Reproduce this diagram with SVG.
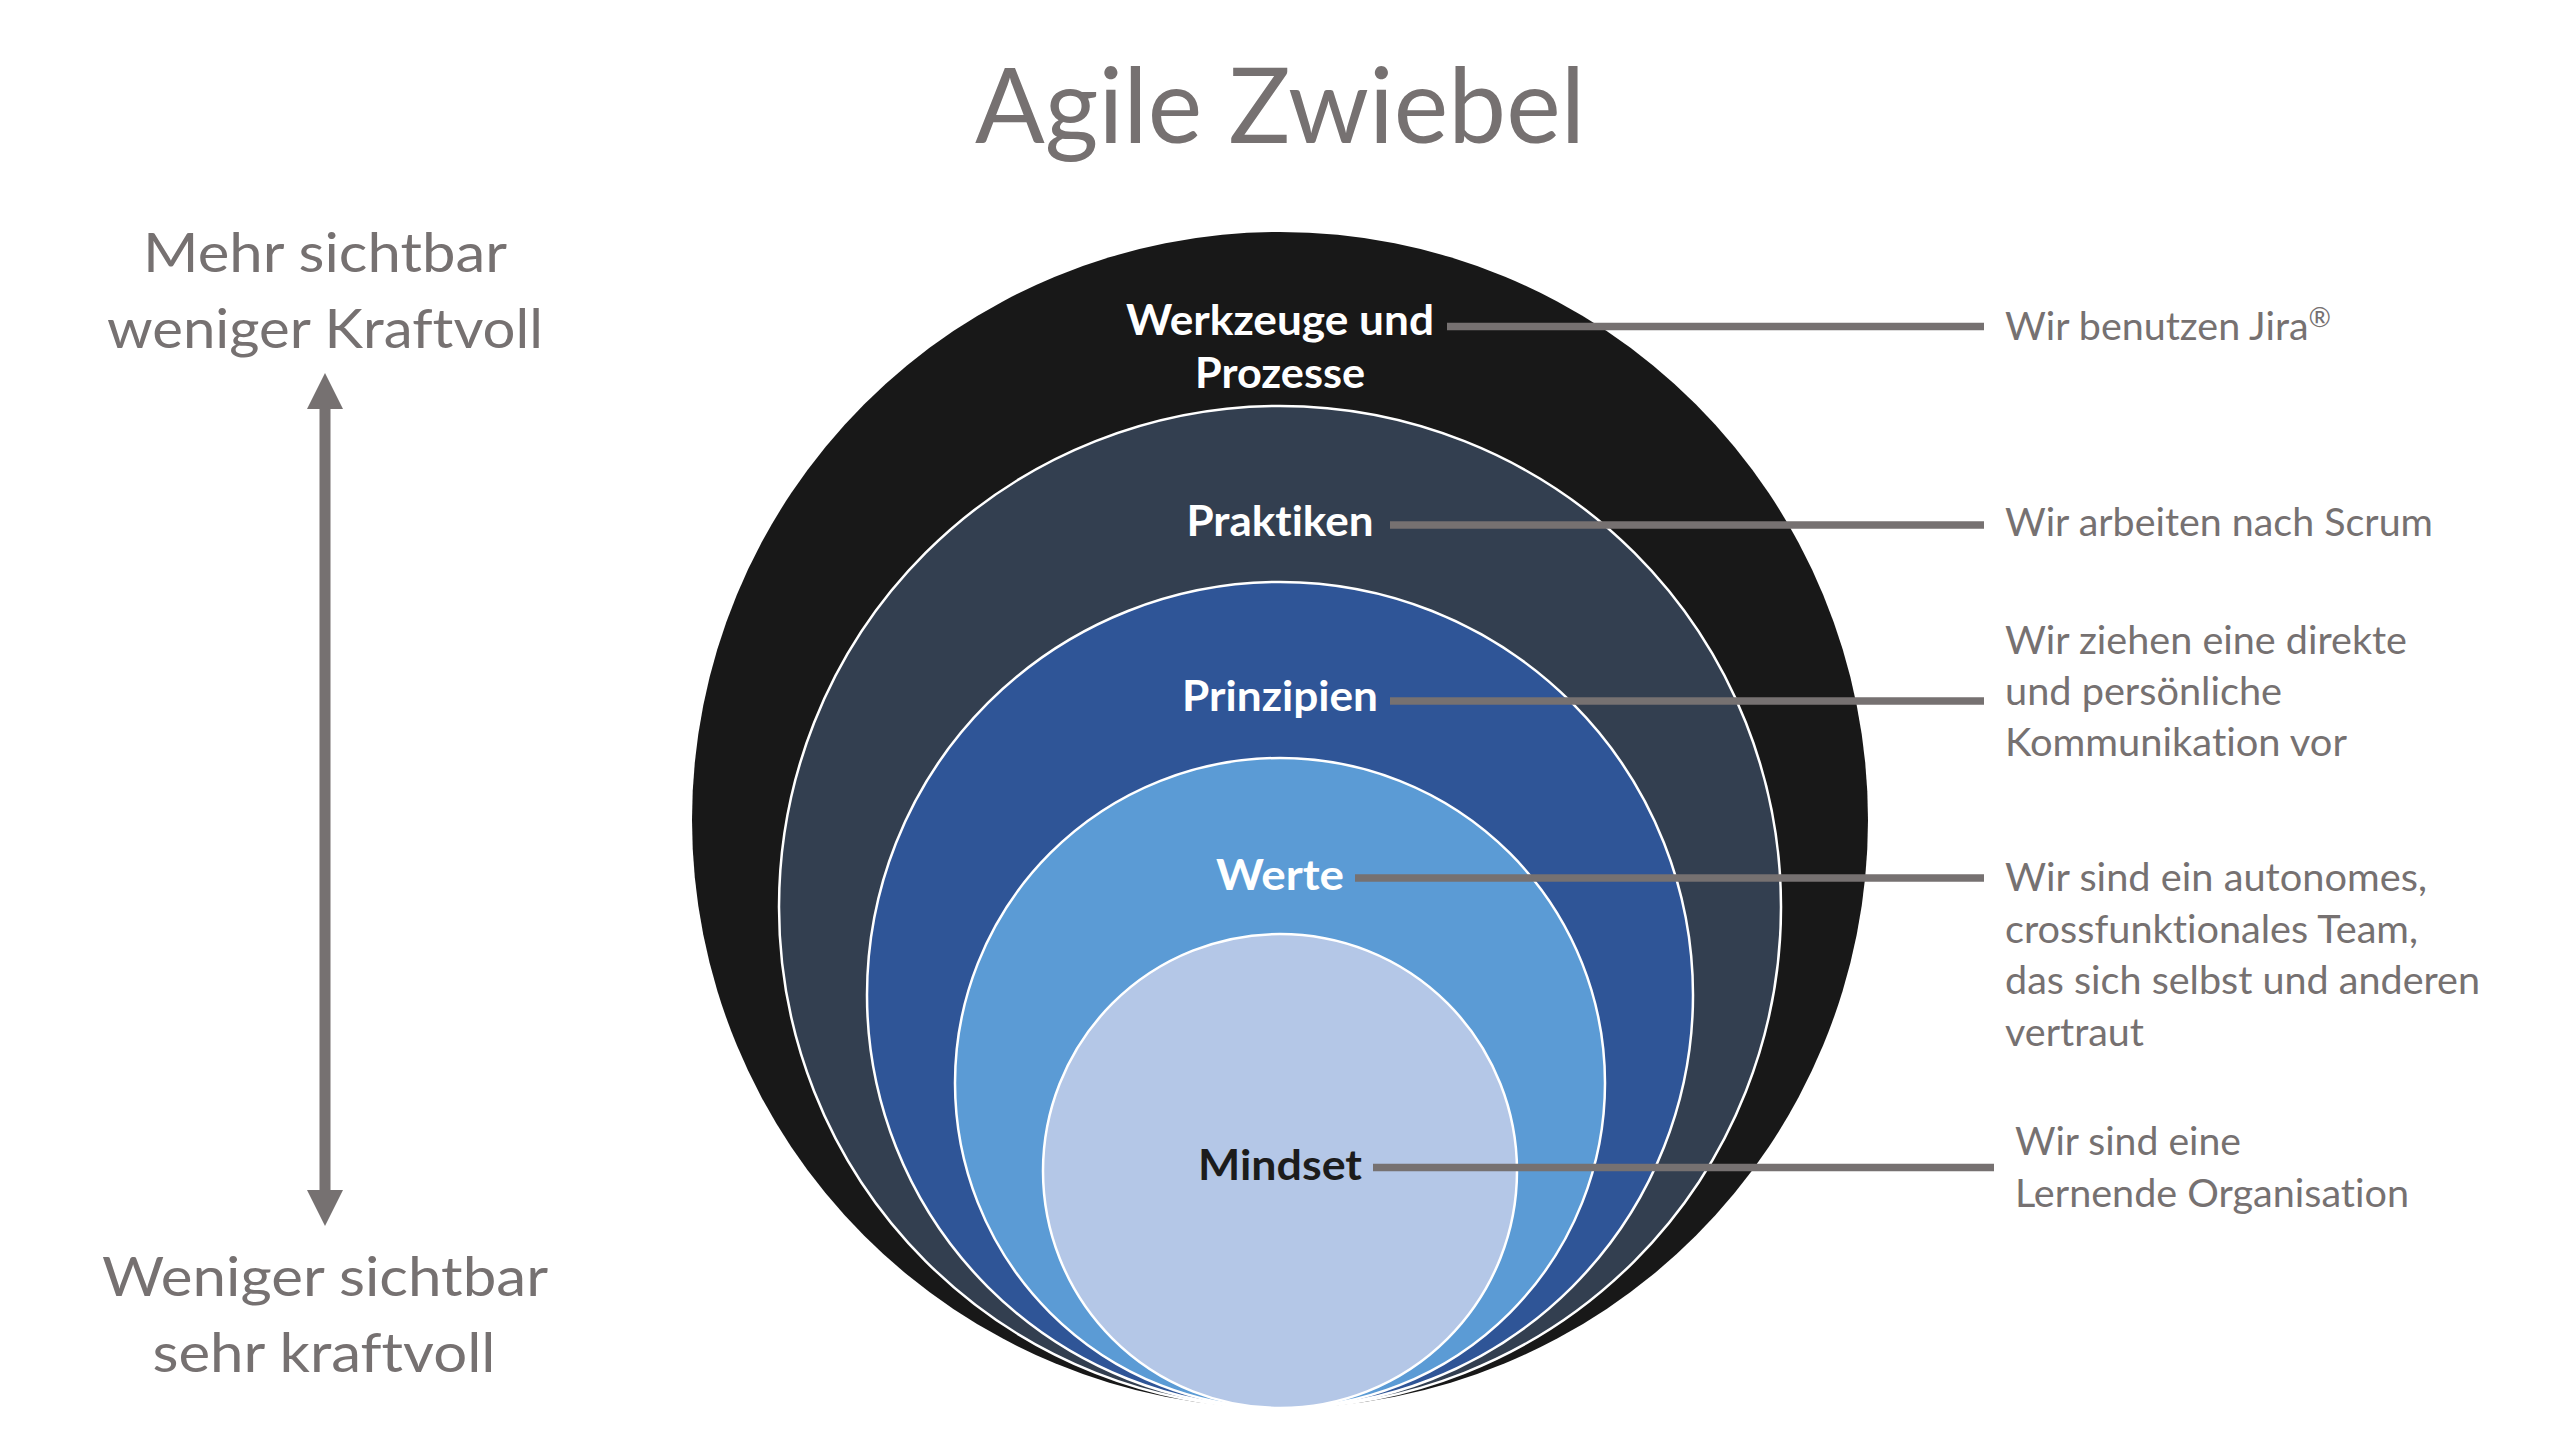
<svg xmlns="http://www.w3.org/2000/svg" width="2560" height="1446" viewBox="0 0 2560 1446">
  <style>
    text { font-variant-ligatures: none; font-feature-settings: "liga" 0, "dlig" 0; }
    .ring { stroke: #FFFFFF; stroke-width: 2.5; }
    .lbl { font-family: Lato, "Liberation Sans", sans-serif; font-weight: 700; font-size: 42px; text-anchor: middle; fill: #FFFFFF; }
    .note { font-family: Lato, "Liberation Sans", sans-serif; font-weight: 400; font-size: 38px; fill: #767171; }
    .side { font-family: Lato, "Liberation Sans", sans-serif; font-weight: 400; font-size: 54px; fill: #767171; text-anchor: middle; }
    .title { font-family: Lato, "Liberation Sans", sans-serif; font-weight: 400; font-size: 105px; fill: #767171; text-anchor: middle; }
    .conn { stroke: #767171; stroke-width: 7.5; fill: none; }
  </style>
  <rect x="0" y="0" width="2560" height="1446" fill="#FFFFFF"/>

  <g id="title">
    <text class="title" x="1280" y="143" textLength="610" lengthAdjust="spacingAndGlyphs">Agile Zwiebel</text>
  </g>

  <g id="visibility-scale">
    <text class="side" x="325" y="272" textLength="364" lengthAdjust="spacingAndGlyphs">Mehr sichtbar</text>
    <text class="side" x="325" y="348" textLength="436" lengthAdjust="spacingAndGlyphs">weniger Kraftvoll</text>
    <rect x="319.5" y="405" width="11" height="789" fill="#767171"/>
    <polygon points="325,373 343,409 307,409" fill="#767171"/>
    <polygon points="325,1226 343,1190 307,1190" fill="#767171"/>
    <text class="side" x="325" y="1296" textLength="446" lengthAdjust="spacingAndGlyphs">Weniger sichtbar</text>
    <text class="side" x="324" y="1372" textLength="343" lengthAdjust="spacingAndGlyphs">sehr kraftvoll</text>
  </g>

  <g id="werkzeuge">
    <circle cx="1280" cy="820" r="588" fill="#181818"/>
    <text class="lbl" x="1280" y="335" textLength="308" lengthAdjust="spacingAndGlyphs">Werkzeuge und</text>
    <text class="lbl" x="1280" y="388" textLength="170" lengthAdjust="spacingAndGlyphs">Prozesse</text>
  </g>
  <g id="praktiken">
    <circle class="ring" cx="1280" cy="907" r="501" fill="#333F50"/>
    <text class="lbl" x="1280" y="536" textLength="187" lengthAdjust="spacingAndGlyphs">Praktiken</text>
  </g>
  <g id="prinzipien">
    <circle class="ring" cx="1280" cy="995" r="413" fill="#2F5597"/>
    <text class="lbl" x="1280" y="711" textLength="196" lengthAdjust="spacingAndGlyphs">Prinzipien</text>
  </g>
  <g id="werte">
    <circle class="ring" cx="1280" cy="1083" r="325" fill="#5B9BD5"/>
    <text class="lbl" x="1280" y="890" textLength="128" lengthAdjust="spacingAndGlyphs">Werte</text>
  </g>
  <g id="mindset">
    <circle class="ring" cx="1280" cy="1171" r="237" fill="#B4C7E7"/>
    <text class="lbl" x="1280" y="1180" textLength="164" lengthAdjust="spacingAndGlyphs" style="fill:#1C1C1C">Mindset</text>
  </g>

  <g id="note-werkzeuge">
    <text class="note" x="2005" y="340" textLength="326" lengthAdjust="spacingAndGlyphs">Wir benutzen Jira<tspan dy="-13" font-size="26">®</tspan></text>
  </g>
  <g id="note-praktiken">
    <text class="note" x="2005" y="536" textLength="428" lengthAdjust="spacingAndGlyphs">Wir arbeiten nach Scrum</text>
  </g>
  <g id="note-prinzipien">
    <text class="note" x="2005" y="653.5" textLength="402" lengthAdjust="spacingAndGlyphs">Wir ziehen eine direkte</text>
    <text class="note" x="2005" y="705" textLength="277" lengthAdjust="spacingAndGlyphs">und persönliche</text>
    <text class="note" x="2005" y="756" textLength="342" lengthAdjust="spacingAndGlyphs">Kommunikation vor</text>
  </g>
  <g id="note-werte">
    <text class="note" x="2005" y="891" textLength="422" lengthAdjust="spacingAndGlyphs">Wir sind ein autonomes,</text>
    <text class="note" x="2005" y="942.5" textLength="413" lengthAdjust="spacingAndGlyphs">crossfunktionales Team,</text>
    <text class="note" x="2005" y="994" textLength="475" lengthAdjust="spacingAndGlyphs">das sich selbst und anderen</text>
    <text class="note" x="2005" y="1045.5" textLength="139" lengthAdjust="spacingAndGlyphs">vertraut</text>
  </g>
  <g id="note-mindset">
    <text class="note" x="2015" y="1155" textLength="226" lengthAdjust="spacingAndGlyphs">Wir sind eine</text>
    <text class="note" x="2015" y="1206.5" textLength="394" lengthAdjust="spacingAndGlyphs">Lernende Organisation</text>
  </g>

  <g id="connectors">
    <line class="conn" x1="1447" y1="326.5" x2="1984" y2="326.5"/>
    <line class="conn" x1="1390" y1="525" x2="1984" y2="525"/>
    <line class="conn" x1="1390" y1="701" x2="1984" y2="701"/>
    <line class="conn" x1="1355" y1="878" x2="1984" y2="878"/>
    <line class="conn" x1="1373" y1="1167.5" x2="1994" y2="1167.5"/>
  </g>
</svg>
